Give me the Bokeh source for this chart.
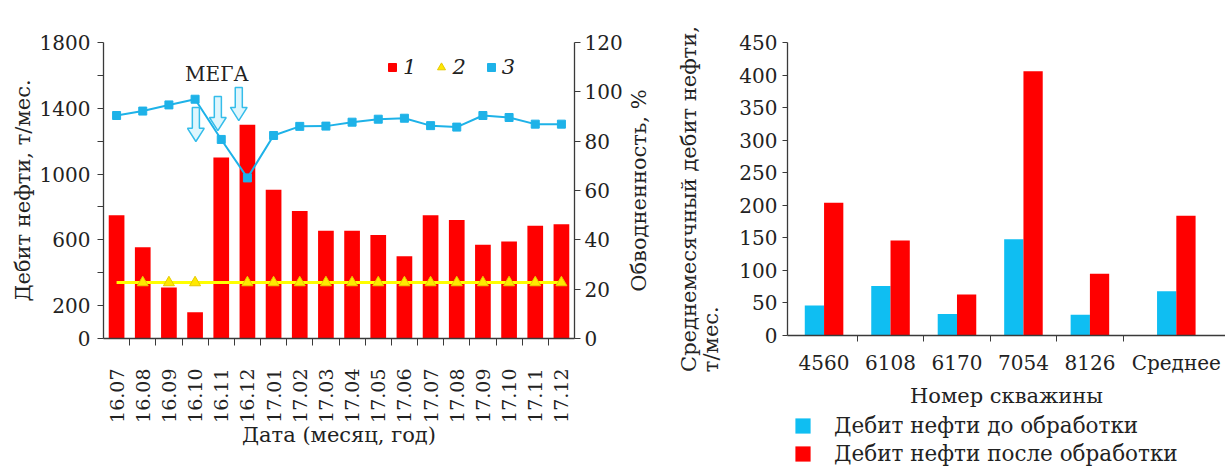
import math
from bokeh.plotting import figure
from bokeh.models import Range1d, LinearAxis, FixedTicker, Legend, LegendItem, Label
from bokeh.layouts import row, column
from bokeh.embed import file_html
from bokeh.resources import INLINE

# ---------------- data: left chart ----------------
months = ["16.07", "16.08", "16.09", "16.10", "16.11", "16.12", "17.01", "17.02", "17.03",
          "17.04", "17.05", "17.06", "17.07", "17.08", "17.09", "17.10", "17.11", "17.12"]
oil_rate = [750, 555, 310, 160, 1100, 1300, 905, 775, 655, 655, 630, 500, 750, 720, 570, 590, 685, 695]
series2 = [340, 340, 340, 340, 340, 340, 340, 340, 340, 340, 340, 340, 340, 340, 340, 340, 340, 340]
series2_marked = [False, True, True, True, False, True, True, True, True, True, True, True, True, True, True, True, True, True]
water_cut = [90.4, 92.2, 94.7, 97.0, 80.7, 65.1, 82.3, 86.0, 86.1, 87.7, 88.9, 89.3, 86.3, 85.7, 90.4, 89.6, 86.9, 86.9]
left_ticks_major = [0, 200, 600, 1000, 1400, 1800]
left_ticks_minor = [400, 800, 1200, 1600]
pct_ticks = [0, 20, 40, 60, 80, 100, 120]
# MEGA treatment arrows (x in month-index units, y in t/month)
mega_x = [3.03, 3.87, 4.67]
mega_tip = [1198, 1264, 1325]
mega_top = [1404, 1471, 1526]

# ---------------- data: right chart ----------------
wells = ["4560", "6108", "6170", "7054", "8126", "Среднее"]
rate_before = [46, 76, 33, 148, 32, 68]
rate_after = [204, 146, 63, 406, 95, 184]
right_ticks = [0, 50, 100, 150, 200, 250, 300, 350, 400, 450]

RED = "#ff0000"
CYAN = "#1eb2e8"
CYAN_BAR = "#0fbef2"
YELLOW = "#ffff00"
AX = "#3a3a3a"
TXT = "#222222"
FONT = "DejaVu Serif"
FS_TICK = "20px"
FS = "21px"
NAN = float("nan")
NBSP = "\u00a0"


def style_axis(ax, tick_fs=FS_TICK):
    ax.axis_line_color = AX
    ax.axis_line_width = 1.3
    ax.major_tick_line_color = AX
    ax.minor_tick_line_color = AX
    ax.major_tick_in = 0
    ax.minor_tick_in = 0
    ax.major_label_text_font = FONT
    ax.major_label_text_font_size = tick_fs
    ax.major_label_text_color = TXT
    ax.axis_label_text_font = FONT
    ax.axis_label_text_font_size = FS
    ax.axis_label_text_font_style = "normal"
    ax.axis_label_text_color = TXT


# ================= left figure =================
p1 = figure(width=665, height=466, x_range=Range1d(-0.5, 17.5), y_range=Range1d(0, 1800),
            output_backend="svg", toolbar_location=None,
            min_border_left=103, min_border_right=88, min_border_top=42, min_border_bottom=128)
p1.extra_y_ranges = {"pct": Range1d(0, 120)}
p1.outline_line_color = None
p1.xgrid.grid_line_color = None
p1.ygrid.grid_line_color = None

idx = list(range(len(months)))

p1.vbar(x=idx, top=oil_rate, width=0.6, fill_color=RED, line_color=None)
p1.line(x=idx, y=series2, line_color=YELLOW, line_width=3)
p1.scatter(x=[i for i in idx if series2_marked[i]], y=[series2[i] for i in idx if series2_marked[i]],
           marker="triangle", size=11, fill_color="#ffe800", line_color="#e6c800", line_width=1)
p1.line(x=idx, y=water_cut, y_range_name="pct", line_color=CYAN, line_width=2)
p1.scatter(x=idx, y=water_cut, y_range_name="pct", marker="square", size=8,
           fill_color=CYAN, line_color=CYAN)

# hollow block arrows
hs, hh, hl = 0.135, 0.32, 80
axs, ays = [], []
for x, tip, top in zip(mega_x, mega_tip, mega_top):
    neck = tip + hl
    axs.append([x - hs, x + hs, x + hs, x + hh, x, x - hh, x - hs])
    ays.append([top, top, neck, neck, tip, neck, neck])
p1.patches(axs, ays, fill_color="#dff6fd", line_color="#35bdea", line_width=1.5)

p1.add_layout(Label(x=3.83, y=1611, text="МЕГА", text_align="center", text_baseline="middle",
                    text_font=FONT, text_font_size=FS_TICK, text_color=TXT))

# axes
xa = p1.xaxis[0]
style_axis(xa, "19px")
xa.ticker = FixedTicker(ticks=idx, minor_ticks=[i + 0.5 for i in range(len(months) - 1)])
xa.major_label_overrides = {i: m for i, m in enumerate(months)}
xa.major_label_orientation = math.pi / 2
xa.major_tick_out = 0
xa.minor_tick_out = 7
xa.major_label_standoff = 23
xa.axis_label = "Дата (месяц, год)"
xa.axis_label_standoff = -3

ya = p1.yaxis[0]
style_axis(ya)
ya.ticker = FixedTicker(ticks=left_ticks_major, minor_ticks=left_ticks_minor)
ya.major_tick_out = 6
ya.minor_tick_out = 6
ya.major_label_standoff = 7
ya.axis_label = "Дебит нефти, т/мес."
ya.axis_label_standoff = 2

ra = LinearAxis(y_range_name="pct", ticker=FixedTicker(ticks=pct_ticks))
style_axis(ra)
ra.major_tick_out = 6
ra.major_label_standoff = 4
ra.axis_label = NBSP * 7 + "Обводненность, %"
ra.axis_label_standoff = 13
ra.axis_label_orientation = math.pi / 2
ra.axis_label_align = "start"
p1.add_layout(ra, "right")

# legend
l1 = p1.scatter(x=[NAN], y=[NAN], marker="square", fill_color=RED, line_color=RED)
l2 = p1.scatter(x=[NAN], y=[NAN], marker="triangle", fill_color="#ffe800", line_color="#e6c800")
l3 = p1.scatter(x=[NAN], y=[NAN], marker="square", fill_color=CYAN, line_color=CYAN)
leg1 = Legend(items=[LegendItem(label="1", renderers=[l1]),
                     LegendItem(label="2", renderers=[l2]),
                     LegendItem(label="3", renderers=[l3])],
              orientation="horizontal", location=(279, 259),
              glyph_width=20, glyph_height=22, label_standoff=1, spacing=15, label_width=8,
              padding=0, margin=0, border_line_color=None, background_fill_alpha=0,
              label_text_font=FONT, label_text_font_style="italic", label_text_font_size=FS,
              label_text_color=TXT)
p1.add_layout(leg1)

# ================= right figure =================
avg_gap = 0.3
centers = [i + 0.5 for i in range(len(wells) - 1)] + [len(wells) - 1 + avg_gap + 0.5]
bw = 0.29

p2 = figure(width=560, height=410, x_range=Range1d(-0.05, 6.54), y_range=Range1d(0, 450),
            output_backend="svg", toolbar_location=None,
            min_border_left=122, min_border_right=0, min_border_top=42, min_border_bottom=72)
p2.outline_line_color = None
p2.xgrid.grid_line_color = None
p2.ygrid.grid_line_color = None

rb = p2.vbar(x=[c - bw / 2 for c in centers], top=rate_before, width=bw, fill_color=CYAN_BAR, line_color=None)
rr = p2.vbar(x=[c + bw / 2 for c in centers], top=rate_after, width=bw, fill_color=RED, line_color=None)

xb = p2.xaxis[0]
style_axis(xb)
xb.ticker = FixedTicker(ticks=centers, minor_ticks=[1, 2, 3, 4, 5])
xb.major_label_overrides = {c: w for c, w in zip(centers, wells)}
xb.major_tick_out = 0
xb.minor_tick_out = 6
xb.major_label_standoff = 9
xb.axis_label = "Номер скважины"
xb.axis_label_standoff = 6

yb = p2.yaxis[0]
style_axis(yb)
yb.ticker = FixedTicker(ticks=right_ticks)
yb.major_tick_out = 5
yb.major_label_standoff = 5
yb.axis_label = "т/мес." + NBSP * 45
yb.axis_label_standoff = 13

yb2 = LinearAxis(ticker=FixedTicker(ticks=[]))
style_axis(yb2)
yb2.axis_line_color = None
yb2.major_label_text_font_size = "0px"
yb2.axis_label = "Среднемесячный дебит нефти," + NBSP * 3
yb2.axis_label_standoff = -4
p2.add_layout(yb2, "left")

# legend of the right chart (own strip under the chart)
p3 = figure(width=560, height=56, x_range=Range1d(0, 1), y_range=Range1d(0, 1),
            output_backend="svg", toolbar_location=None,
            x_axis_location=None, y_axis_location=None, min_border=0)
p3.outline_line_color = None
p3.xgrid.grid_line_color = None
p3.ygrid.grid_line_color = None
lb = p3.vbar(x=[NAN], top=[NAN], width=0.1, fill_color=CYAN_BAR, line_color=None)
lr = p3.vbar(x=[NAN], top=[NAN], width=0.1, fill_color=RED, line_color=None)
leg2 = Legend(items=[LegendItem(label="Дебит нефти до обработки", renderers=[lb]),
                     LegendItem(label="Дебит нефти после обработки", renderers=[lr])],
              orientation="vertical", location=(6, 0),
              glyph_width=19, glyph_height=19, label_standoff=22, spacing=3,
              padding=0, margin=0, border_line_color=None, background_fill_alpha=0,
              label_text_font=FONT, label_text_font_size="21.5px", label_text_color=TXT)
p3.add_layout(leg2)

layout = row(p1, column(p2, p3))
open("out.html", "w").write(file_html(layout, INLINE))
